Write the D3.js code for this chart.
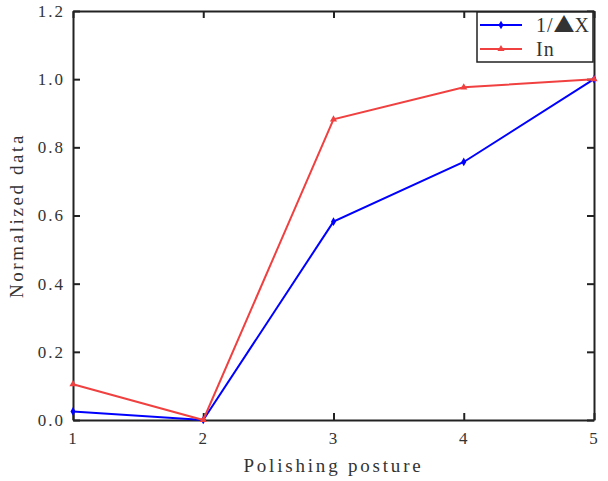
<!DOCTYPE html>
<html>
<head>
<meta charset="utf-8">
<script src="https://cdn.jsdelivr.net/npm/d3@7"></script>
<style>
  body { margin: 0; background: #fff; }
  text { font-family: "Liberation Serif", "DejaVu Serif", serif; fill: #333; }
</style>
</head>
<body>
<div id="chart"></div>
<script>
var svgWidth = 608;
var svgHeight = 481;

var margin = { top: 11, right: 14, bottom: 61, left: 73 };
var width = svgWidth - margin.left - margin.right;
var height = svgHeight - margin.top - margin.bottom;

// data
var postures = [1, 2, 3, 4, 5];
var invDeltaX = [0.025, 0.0, 0.582, 0.757, 1.0];
var currentIn = [0.105, 0.0, 0.882, 0.976, 1.0];
var yTicks = [0.0, 0.2, 0.4, 0.6, 0.8, 1.0, 1.2];
var seriesNames = [["1/", "\u25B2", "X"], ["In"]];

var svg = d3.select("#chart")
  .append("svg")
  .attr("width", svgWidth)
  .attr("height", svgHeight);

var chartGroup = svg.append("g")
  .attr("transform", `translate(${margin.left}, ${margin.top})`);

var xScale = d3.scaleLinear().domain([1, 5]).range([0, width]);
var yScale = d3.scaleLinear().domain([0, 1.2]).range([height, 0]);

// axes, ticks pointing inward on all four sides
var bottomAxis = d3.axisBottom(xScale).tickValues(postures).tickFormat(d3.format("d"))
  .tickSizeInner(-7).tickSizeOuter(0).tickPadding(12);
var topAxis = d3.axisTop(xScale).tickValues(postures).tickFormat("")
  .tickSizeInner(-7).tickSizeOuter(0);
var leftAxis = d3.axisLeft(yScale).tickValues(yTicks).tickFormat(d3.format(".1f"))
  .tickSizeInner(-7).tickSizeOuter(0).tickPadding(8);
var rightAxis = d3.axisRight(yScale).tickValues(yTicks).tickFormat("")
  .tickSizeInner(-7).tickSizeOuter(0);

function styleAxis(g) {
  g.select(".domain").attr("stroke", "#222").attr("stroke-width", 2);
  g.selectAll(".tick line").attr("stroke", "#222").attr("stroke-width", 2);
  g.selectAll(".tick text")
    .style("font-family", "'Liberation Serif', serif")
    .style("font-size", "17px")
    .style("letter-spacing", "2px")
    .attr("fill", "#444");
}

chartGroup.append("g").attr("transform", `translate(0, ${height})`).call(bottomAxis).call(styleAxis);
chartGroup.append("g").call(topAxis).call(styleAxis);
chartGroup.append("g").call(leftAxis).call(styleAxis);
chartGroup.append("g").attr("transform", `translate(${width}, 0)`).call(rightAxis).call(styleAxis);

// lines
var line = d3.line()
  .x((d, i) => xScale(postures[i]))
  .y(d => yScale(d));

var series = [
  { name: seriesNames[0], values: invDeltaX, color: "#0000ff", marker: d3.symbolDiamond },
  { name: seriesNames[1], values: currentIn, color: "#f04040", marker: d3.symbolTriangle }
];

series.forEach(function(s) {
  chartGroup.append("path")
    .datum(s.values)
    .attr("fill", "none")
    .attr("stroke", s.color)
    .attr("stroke-width", 2)
    .attr("d", line);

  chartGroup.selectAll(null)
    .data(s.values)
    .enter()
    .append("path")
    .attr("d", d3.symbol().type(s.marker).size(22))
    .attr("transform", (d, i) => `translate(${xScale(postures[i])}, ${yScale(d)})`)
    .attr("fill", s.color);
});

// legend
var legend = chartGroup.append("g")
  .attr("transform", `translate(${width - 117}, 1)`);

legend.append("rect")
  .attr("width", 116)
  .attr("height", 50)
  .attr("fill", "#fff")
  .attr("stroke", "#222")
  .attr("stroke-width", 1.5);

series.forEach(function(s, i) {
  var ly = 13 + i * 24;
  legend.append("line")
    .attr("x1", 3).attr("x2", 45)
    .attr("y1", ly).attr("y2", ly)
    .attr("stroke", s.color)
    .attr("stroke-width", 2);
  legend.append("path")
    .attr("d", d3.symbol().type(s.marker).size(22))
    .attr("transform", `translate(24, ${ly})`)
    .attr("fill", s.color);
  var t = legend.append("text")
    .attr("x", 59)
    .attr("y", ly)
    .attr("dy", "0.35em")
    .style("font-size", "20px")
    .style("letter-spacing", "1px")
    .attr("fill", "#111");
  s.name.forEach(function(part) {
    var span = t.append("tspan").text(part);
    if (part === "\u25B2") {
      span.style("font-family", "'Noto Sans CJK SC', sans-serif")
        .style("font-size", "21px")
        .style("letter-spacing", "0px");
    }
  });
});

// axis titles
chartGroup.append("text")
  .attr("x", width / 2)
  .attr("y", height + 52)
  .attr("text-anchor", "middle")
  .style("font-size", "19px")
  .style("letter-spacing", "2.8px")
  .text("Polishing posture");

chartGroup.append("text")
  .attr("transform", "rotate(-90)")
  .attr("x", -height / 2)
  .attr("y", -50)
  .attr("text-anchor", "middle")
  .style("font-size", "19px")
  .style("letter-spacing", "2.6px")
  .text("Normalized data");
</script>
</body>
</html>
